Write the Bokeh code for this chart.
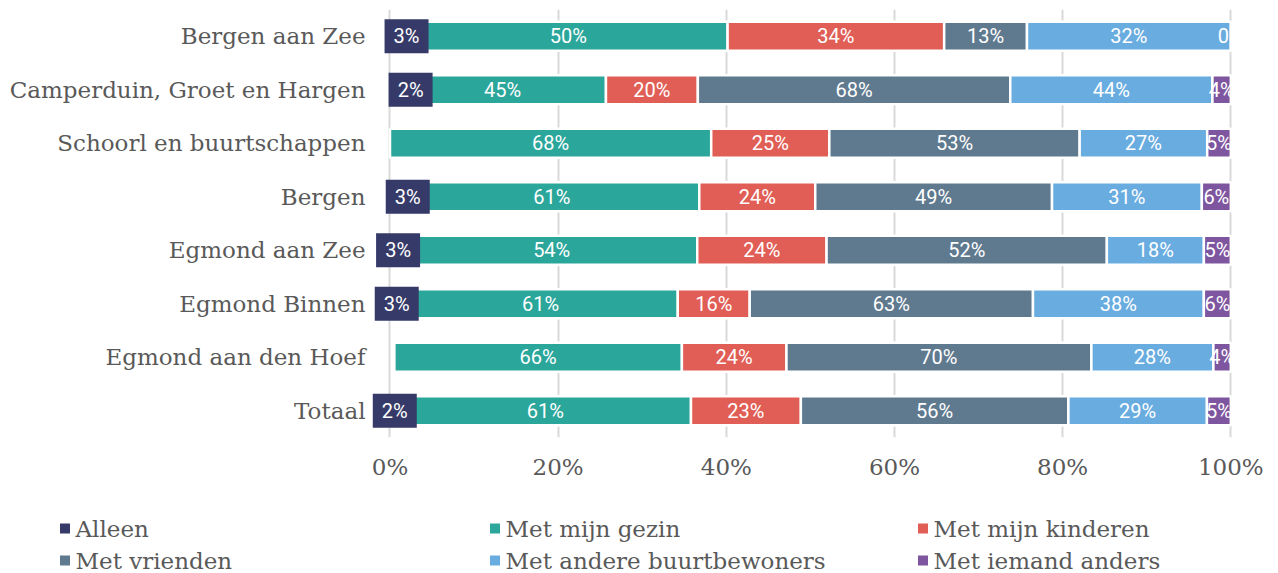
from bokeh.plotting import figure
from bokeh.layouts import column
from bokeh.models import (ColumnDataSource, FactorRange, Range1d, FixedTicker,
                          PrintfTickFormatter)
from bokeh.core.properties import value
from bokeh.embed import file_html
from bokeh.resources import INLINE

# ---------------- data ----------------
categories = ["Bergen aan Zee", "Camperduin, Groet en Hargen", "Schoorl en buurtschappen",
              "Bergen", "Egmond aan Zee", "Egmond Binnen", "Egmond aan den Hoef", "Totaal"]
series = ["Alleen", "Met mijn gezin", "Met mijn kinderen", "Met vrienden",
          "Met andere buurtbewoners", "Met iemand anders"]
alleen = [3, 2, 0, 3, 3, 3, 1, 2]
gezin = [50, 45, 68, 61, 54, 61, 66, 61]
kinderen = [34, 20, 25, 24, 24, 16, 24, 23]
vrienden = [13, 68, 53, 49, 52, 63, 70, 56]
buurt = [32, 44, 27, 31, 18, 38, 28, 29]
anders = [0, 4, 5, 6, 5, 6, 4, 5]
alleen_labels = ["3%", "2%", "", "3%", "3%", "3%", "", "2%"]
x_ticks = [0, 20, 40, 60, 80, 100]

# ---------------- style ----------------
colors = ["#363a69", "#2ba69b", "#e05e55", "#5f7a8f", "#69ace0", "#7e56a0"]
SERIF = "DejaVu Serif"
GREY = "#595959"
X0, X1 = -2.2, 100.2
W = 1278
H_MAIN, H_LEG = 500, 73
ML, MR, MT = 371, 46, 9
FRAME_H = 428
MB = H_MAIN - MT - FRAME_H
FRAME_W = W - ML - MR
px_per_unit = FRAME_W / (X1 - X0)
alleen_box_nudge_px = [7, 16, 0, 10.5, 0, 0, 0, 0]

values = [alleen, gezin, kinderen, vrienden, buurt, anders]
totals = [sum(v[i] for v in values) for i in range(len(categories))]

data = {"cat": categories}
for k, vals in enumerate(values):
    lefts, rights, centers, labels = [], [], [], []
    for i, c in enumerate(categories):
        start = sum(values[j][i] for j in range(k)) / totals[i] * 100
        end = start + vals[i] / totals[i] * 100
        lefts.append(start)
        rights.append(end)
        centers.append((start + end) / 2)
        labels.append(f"{vals[i]}%")
    data[f"l{k}"] = lefts
    data[f"r{k}"] = rights
    data[f"c{k}"] = centers
    data[f"t{k}"] = labels
src = ColumnDataSource(data)

box_cats, box_x, box_lbl = [], [], []
for i, c in enumerate(categories):
    if alleen_labels[i]:
        box_cats.append(c)
        box_x.append(data["c0"][i] + alleen_box_nudge_px[i] / px_per_unit)
        box_lbl.append(alleen_labels[i])
box_src = ColumnDataSource(dict(cat=box_cats, x=box_x, t=box_lbl))

p = figure(width=W, height=H_MAIN, title=None,
           y_range=FactorRange(factors=categories[::-1]),
           x_range=Range1d(X0, X1),
           output_backend="svg", toolbar_location=None,
           min_border_left=ML, min_border_right=MR, min_border_top=MT, min_border_bottom=MB)
p.outline_line_color = None
p.background_fill_color = "white"
p.border_fill_color = "white"
p.frame_align = False

# grid
p.ygrid.visible = False
p.xgrid.ticker = FixedTicker(ticks=x_ticks)
p.xgrid.grid_line_color = "#d9d9d9"
p.xgrid.grid_line_width = 2

# bars (series 1..5; Alleen shown via its label box)
for k in range(1, 6):
    p.hbar(y="cat", left=f"l{k}", right=f"r{k}", height=0.54, source=src,
           fill_color=colors[k], line_color="white", line_width=2.5)

# Alleen label boxes
p.rect(x="x", y="cat", width=44, height=34, width_units="screen", height_units="screen",
       source=box_src, fill_color=colors[0], line_color=None)
p.text(x="x", y="cat", text="t", source=box_src, text_align="center", text_baseline="middle",
       text_color="white", text_font=value("Roboto"), text_font_size="20px")

for k in range(1, 6):
    p.text(x=f"c{k}", y="cat", text=f"t{k}", source=src, text_align="center",
           text_baseline="middle", text_color="white", text_font=value("Roboto"),
           text_font_size="20px")

# axes
xa = p.xaxis[0]
xa.ticker = FixedTicker(ticks=x_ticks)
xa.formatter = PrintfTickFormatter(format="%d%%")
xa.axis_line_color = None
xa.major_tick_line_color = None
xa.minor_tick_line_color = None
xa.major_tick_out = 0
xa.major_label_standoff = 16
xa.major_label_text_font = SERIF
xa.major_label_text_font_size = "23px"
xa.major_label_text_color = GREY

ya = p.yaxis[0]
ya.axis_line_color = None
ya.major_tick_line_color = None
ya.major_tick_out = 0
ya.major_label_standoff = 6
ya.major_label_text_font = SERIF
ya.major_label_text_font_size = "23px"
ya.major_label_text_color = GREY
ya.major_label_overrides = {"Schoorl en buurtschappen": "Schoorl en buurtschappen\u00a0",
                            "Bergen": "Bergen\u00a0", "Totaal": "Totaal\u00a0"}

# ---------------- legend (separate strip, pixel coordinates) ----------------
leg = figure(width=W, height=H_LEG, title=None, x_range=Range1d(0, W), y_range=Range1d(0, H_LEG),
             x_axis_type=None, y_axis_type=None, output_backend="svg", toolbar_location=None,
             min_border=0)
leg.outline_line_color = None
leg.frame_align = False
text_left = [75, 505, 933]
row_y = [H_LEG - 28, H_LEG - 60]
sq_x, sq_y, sq_c, tx_x, tx_y, tx_t = [], [], [], [], [], []
for j, name in enumerate(series):
    r, c = divmod(j, 3)
    sq_x.append(text_left[c] - 10.5)
    sq_y.append(row_y[r])
    sq_c.append(colors[j])
    tx_x.append(text_left[c])
    tx_y.append(row_y[r])
    tx_t.append(name)
leg.rect(x=sq_x, y=sq_y, width=10, height=10, width_units="screen", height_units="screen",
         fill_color=sq_c, line_color=None)
leg.text(x=tx_x, y=tx_y, text=tx_t, text_align="left", text_baseline="middle",
         text_color=GREY, text_font=value(SERIF), text_font_size="23px")

layout = column(p, leg, spacing=0)
open("out.html", "w").write(file_html(layout, INLINE))
